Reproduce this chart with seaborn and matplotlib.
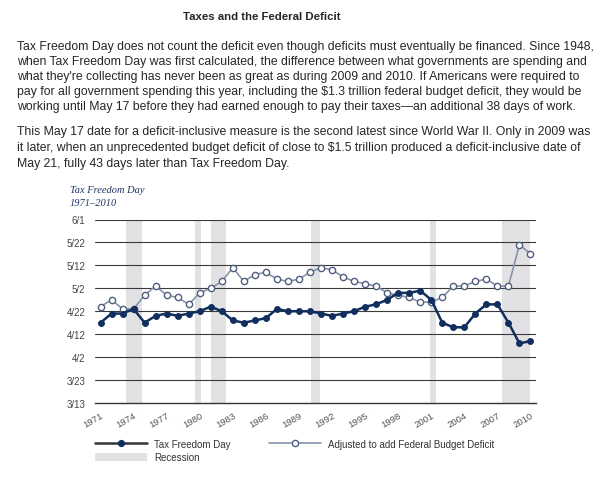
import matplotlib
matplotlib.use("Agg")
import matplotlib.pyplot as plt
import seaborn as sns
import pandas as pd
from matplotlib.lines import Line2D
from matplotlib.patches import Patch

# data (month/day)
years = list(range(1971, 2011))
tax_freedom_day = [
    "4/17", "4/21", "4/21", "4/23", "4/17", "4/20", "4/21", "4/20", "4/21", "4/22",
    "4/24", "4/22", "4/18", "4/17", "4/18", "4/19", "4/23", "4/22", "4/22", "4/22",
    "4/21", "4/20", "4/21", "4/22", "4/24", "4/25", "4/27", "4/30", "4/30", "5/1",
    "4/27", "4/17", "4/15", "4/15", "4/21", "4/25", "4/25", "4/17", "4/8", "4/9",
]
deficit_adjusted = [
    "4/24", "4/27", "4/23", "4/23", "4/29", "5/3", "4/29", "4/28", "4/25", "4/30",
    "5/2", "5/5", "5/11", "5/5", "5/8", "5/9", "5/6", "5/5", "5/6", "5/9",
    "5/11", "5/10", "5/7", "5/5", "5/4", "5/3", "4/30", "4/29", "4/28", "4/26",
    "4/26", "4/28", "5/3", "5/3", "5/5", "5/6", "5/3", "5/3", "5/21", "5/17",
]
recession_start = [1973.3, 1979.6, 1981.0, 1990.1, 2000.9, 2007.45]
recession_end = [1974.8, 1980.1, 1982.35, 1990.95, 2001.4, 2009.95]
y_tick_labels = ["3/13", "3/23", "4/2", "4/12", "4/22", "5/2", "5/12", "5/22", "6/1"]
x_tick_years = list(range(1971, 2011, 3))

title = "Taxes and the Federal Deficit"
para1 = [
    "Tax Freedom Day does not count the deficit even though deficits must eventually be financed. Since 1948,",
    "when Tax Freedom Day was first calculated, the difference between what governments are spending and",
    "what they're collecting has never been as great as during 2009 and 2010. If Americans were required to",
    "pay for all government spending this year, including the $1.3 trillion federal budget deficit, they would be",
    "working until May 17 before they had earned enough to pay their taxes\u2014an additional 38 days of work.",
]
para2 = [
    "This May 17 date for a deficit-inclusive measure is the second latest since World War II. Only in 2009 was",
    "it later, when an unprecedented budget deficit of close to $1.5 trillion produced a deficit-inclusive date of",
    "May 21, fully 43 days later than Tax Freedom Day.",
]


def day_num(md):
    # days after 3/13 on a common (non-leap) calendar
    d = pd.to_datetime("2010/" + md, format="%Y/%m/%d")
    return (d - pd.Timestamp("2010-03-13")).days


df = pd.DataFrame({
    "year": years,
    "tfd": [day_num(s) for s in tax_freedom_day],
    "adj": [day_num(s) for s in deficit_adjusted],
})

sns.set_style("white")
plt.rcParams["font.family"] = ["Liberation Sans", "DejaVu Sans"]

W, H = 613, 485
fig = plt.figure(figsize=(W / 100, H / 100), dpi=100)


def fy(py):
    return 1 - py / H


# text block
fig.text(262 / W, fy(17), title, ha="center", va="center", fontsize=8.2, fontweight="bold")
for i, line in enumerate(para1):
    fig.text(17 / W, fy(47 + i * 15), line, ha="left", va="center", fontsize=8.85)
for i, line in enumerate(para2):
    fig.text(17 / W, fy(132.5 + i * 15.5), line, ha="left", va="center", fontsize=8.85)

fig.text(70 / W, fy(191), "Tax Freedom Day", ha="left", va="center", fontsize=7.5,
         style="italic", family="Liberation Serif", color="#1f3566")
fig.text(70 / W, fy(203), "1971\u20132010", ha="left", va="center", fontsize=7.5,
         style="italic", family="Liberation Serif", color="#1f3566")

ax = fig.add_axes([95 / W, fy(404), 441 / W, (404 - 220.5) / H])

for s, e in zip(recession_start, recession_end):
    ax.axvspan(s, e, color="#e2e2e5", lw=0, zorder=0)

y_ticks = [day_num(s) for s in y_tick_labels]
for yv in y_ticks[1:]:
    ax.axhline(yv, color="#3a3a3a", lw=0.8, zorder=1)

sns.lineplot(data=df, x="year", y="adj", ax=ax, color="#8593aa", lw=1.2, marker="o",
             markersize=4.5, markerfacecolor="white", markeredgecolor="#4f5e7c",
             markeredgewidth=1.0, zorder=3)
sns.lineplot(data=df, x="year", y="tfd", ax=ax, color="#112f5e", lw=1.8, marker="o",
             markersize=4.2, markerfacecolor="#112f5e", markeredgecolor="#112f5e",
             zorder=4)

ax.set_xlim(1970.5, 2010.5)
ax.set_ylim(0, 80)
ax.set_yticks(y_ticks)
ax.set_yticklabels(y_tick_labels)
ax.set_xticks(x_tick_years)
ax.set_xticklabels([str(y) for y in x_tick_years], rotation=30, ha="right",
                   rotation_mode="anchor")
ax.set_xticks([y + 0.5 for y in range(1971, 2011)], minor=True)
ax.tick_params(axis="x", which="major", length=0, pad=5, labelsize=6.8, labelcolor="#555555")
ax.tick_params(axis="x", which="minor", direction="in", length=4, width=0.8, color="#333333")
ax.tick_params(axis="y", length=0, pad=7, labelsize=7, labelcolor="#444444")
ax.set_xlabel("")
ax.set_ylabel("")
for side in ["top", "left", "right"]:
    ax.spines[side].set_visible(False)
ax.spines["bottom"].set_color("#333333")
ax.spines["bottom"].set_linewidth(1.0)

handles = [
    Line2D([], [], color="#333333", lw=1.8, marker="o", markersize=4.2,
           markerfacecolor="#112f5e", markeredgecolor="#112f5e"),
    Patch(facecolor="#e2e2e5", edgecolor="none"),
    Line2D([], [], color="#8593aa", lw=1.2, marker="o", markersize=4.5,
           markerfacecolor="white", markeredgecolor="#4f5e7c"),
]
labels = ["Tax Freedom Day", "Recession", "Adjusted to add Federal Budget Deficit"]
fig.legend(handles, labels, loc="upper left", bbox_to_anchor=(88 / W, fy(433)),
           ncol=2, frameon=False, fontsize=7, handlelength=5.4, handleheight=1.0,
           handletextpad=0.7, columnspacing=3.9, labelspacing=0.35,
           labelcolor="#333333", borderpad=0.2)

fig.savefig("out.png", dpi=100)
